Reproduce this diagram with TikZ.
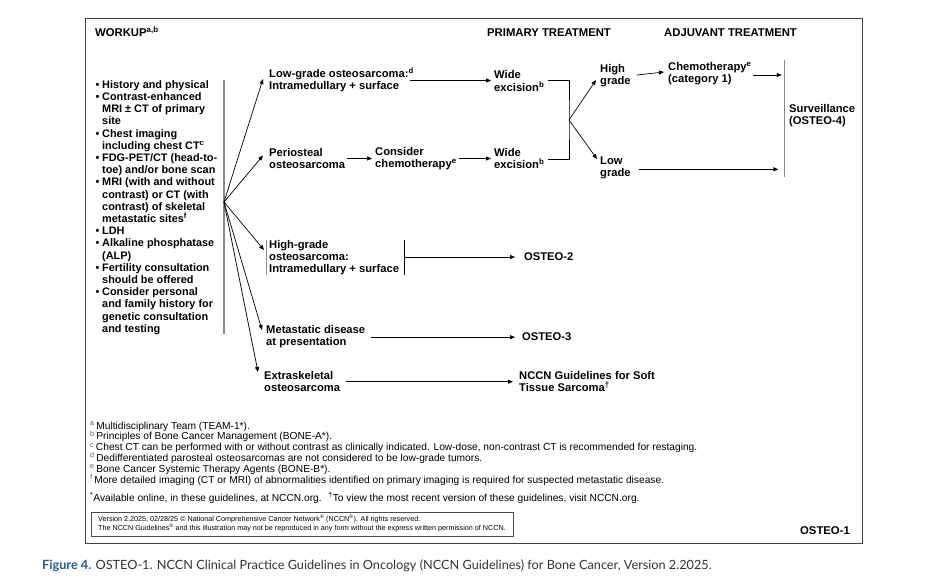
\documentclass[tikz,border=0pt]{standalone}
\usepackage{fontspec}
\setmainfont{Liberation Sans}
\newfontfamily\capfont{Lato}
\usetikzlibrary{arrows.meta,calc}
\definecolor{capblue}{HTML}{1F5C99}
\definecolor{captext}{HTML}{333333}
\definecolor{bargray}{HTML}{8A8A8A}
\newcommand{\bul}{\makebox[6.5pt][l]{\textbullet}}
\newcommand{\ind}{\hspace*{6.5pt}}
\newcommand{\sps}[1]{\smash{\textsuperscript{#1}}}
\newcommand{\fsup}[1]{{\color{black!65}\smash{\textsuperscript{#1}}}\,}
\begin{document}
\begin{tikzpicture}[x=1pt,y=-1pt,
  txt/.style={font=\bfseries\fontsize{11.2}{12.2}\selectfont, inner sep=0pt, align=left, anchor=west},
  wtxt/.style={font=\bfseries\fontsize{10.9}{12.2}\selectfont, inner sep=0pt, align=left, anchor=west},
  hdr/.style={font=\bfseries\fontsize{11.3}{12.2}\selectfont, inner sep=0pt, anchor=west},
  arr/.style={-{Triangle[length=5pt,width=4pt]}, line width=0.7pt},
  ln/.style={line width=0.7pt},
  gbar/.style={draw=bargray, line width=1.4pt},
  fn/.style={font=\fontsize{10.2}{10.8}\selectfont, inner sep=0pt, align=left, anchor=north west},
]
\useasboundingbox (0,0) rectangle (940,584);
\fill[white] (0,0) rectangle (940,584);
\draw[line width=0.8pt, black!75] (85.5,18) rectangle (862,543);

% headers
\node[hdr] (hwork) at (95,32) {WORKUP\textsuperscript{a,b}};
\node[hdr] (hprim) at (487,33) {PRIMARY TREATMENT};
\node[hdr] (hadj) at (664,33) {ADJUVANT TREATMENT};

% workup list
\node[wtxt] (work) at (95.5,207.5) {%
\bul History and physical\\
\bul Contrast-enhanced\\
\ind MRI ± CT of primary\\
\ind site\\
\bul Chest imaging\\
\ind including chest CT\sps{c}\\
\bul FDG-PET/CT (head-to-\\
\ind toe) and/or bone scan\\
\bul MRI (with and without\\
\ind contrast) or CT (with\\
\ind contrast) of skeletal\\
\ind metastatic sites\sps{f}\\
\bul LDH\\
\bul Alkaline phosphatase\\
\ind (ALP)\\
\bul Fertility consultation\\
\ind should be offered\\
\bul Consider personal\\
\ind and family history for\\
\ind genetic consultation\\
\ind and testing};
\coordinate (wbt) at (224,80);
\coordinate (wbb) at (224,334);
\draw[gbar] (wbt) -- (wbb);
\coordinate (fan) at (224,202);

% branch nodes
\node[txt] (low) at (269,81) {Low-grade osteosarcoma:\sps{d}\\Intramedullary + surface};
\node[txt] (wide1) at (494,81) {Wide\\excision\sps{b}};
\node[txt] (peri) at (269,158.5) {Periosteal\\osteosarcoma};
\node[txt] (cons) at (375,158.5) {Consider\\chemotherapy\sps{e}};
\node[txt] (wide2) at (494,158.5) {Wide\\excision\sps{b}};
\node[txt] (high) at (600,76) {High\\grade};
\node[txt] (lowg) at (600,168) {Low\\grade};
\node[txt] (chemo) at (668,73.5) {Chemotherapy\sps{e}\\(category 1)};
\node[txt] (surv) at (789,115.5) {Surveillance\\(OSTEO-4)};
\node[txt] (hg) at (269,257.5) {High-grade\\osteosarcoma:\\Intramedullary + surface};
\node[txt] (o2) at (524,256.5) {OSTEO-2};
\node[txt] (meta) at (266,336.5) {Metastatic disease\\at presentation};
\node[txt] (o3) at (522,336.5) {OSTEO-3};
\node[txt] (extra) at (264,381.5) {Extraskeletal\\osteosarcoma};
\node[txt] (soft) at (519,381.5) {NCCN Guidelines for Soft\\Tissue Sarcoma\sps{\dag}};

% fan arrows
\draw[arr] (fan) -- ([xshift=-6pt,yshift=2pt]low.west);
\draw[arr] (fan) -- ([xshift=-6pt,yshift=3pt]peri.west);
\draw[arr] (fan) -- ([xshift=-5pt,yshift=7.5pt]hg.west);
\draw[arr] (fan) -- ([xshift=-4pt,yshift=6.5pt]meta.west);
\draw[arr] (fan) -- ([xshift=-6pt,yshift=9.5pt]extra.west);

% row arrows
\draw[arr] ([xshift=-4pt,yshift=0.5pt]low.east) -- ([xshift=-3pt,yshift=0.5pt]wide1.west);
\draw[arr] ([xshift=2pt]peri.east) -- ([xshift=-3pt]cons.west);
\draw[arr] ([xshift=2pt]cons.east) -- ([xshift=-3pt]wide2.west);
\coordinate (brk) at (569,120);
\draw[ln] ([xshift=3pt,yshift=1pt]wide1.east) -| (brk) |- ([xshift=3pt,yshift=-1pt]wide2.east);
\draw[arr] (brk) -- ([xshift=-4pt,yshift=-4pt]high.west);
\draw[arr] (brk) -- ([xshift=-3pt,yshift=9pt]lowg.west);

\coordinate (sbt) at (784.3,60);
\coordinate (sbb) at (784.3,177);
\draw[gbar] (sbt) -- (sbb);
\draw[arr] ([xshift=6pt,yshift=1pt]high.east) -- ([xshift=-4pt,yshift=1.5pt]chemo.west);
\draw[arr] ([yshift=-1.5pt,xshift=-31.5pt]chemo.east -| sbt) -- ([yshift=-1.5pt,xshift=-2.5pt]chemo.east -| sbt);
\draw[arr] ([xshift=8pt,yshift=-1.3pt]lowg.east) -- ([yshift=-1.3pt,xshift=-6pt]lowg.east -| sbt);

% high-grade bars
\draw[gbar, line width=1pt] ([xshift=-2.3pt]hg.north west) -- ([xshift=-2.3pt]hg.south west);
\draw[ln] ([xshift=5pt]hg.north east) -- ([xshift=5pt]hg.south east);
\draw[arr] ([xshift=5pt,yshift=0.5pt]hg.east) -- ([xshift=-9pt,yshift=0.5pt]hg.east -| o2.west);
\draw[arr] ([xshift=6pt,yshift=-0.7pt]meta.east) -- ([xshift=-7pt,yshift=-0.7pt]meta.east -| o3.west);
\draw[arr] ([xshift=6pt,yshift=-0.2pt]extra.east) -- ([xshift=-6pt,yshift=-0.2pt]soft.west);

% footnotes
\node[fn] (fns) at (90,421.5) {%
\fsup{a}Multidisciplinary Team (TEAM-1*).\\
\fsup{b}Principles of Bone Cancer Management (BONE-A*).\\
\fsup{c}Chest CT can be performed with or without contrast as clinically indicated. Low-dose, non-contrast CT is recommended for restaging.\\
\fsup{d}Dedifferentiated parosteal osteosarcomas are not considered to be low-grade tumors.\\
\fsup{e}Bone Cancer Systemic Therapy Agents (BONE-B*).\\
\fsup{f}More detailed imaging (CT or MRI) of abnormalities identified on primary imaging is required for suspected metastatic disease.};
\node[fn, anchor=west] (avail) at (90,498) {\textsuperscript{*}Available online, in these guidelines, at NCCN.org. \ \textsuperscript{\dag}To view the most recent version of these guidelines, visit NCCN.org.};

% copyright box
\draw[line width=0.6pt, black!70] (91,512) rectangle (513,536);
\node[font=\fontsize{7.2}{9}\selectfont, inner sep=0pt, align=left, anchor=west] (copy) at (98,524) {Version 2.2025, 02/28/25 © National Comprehensive Cancer Network\sps{®} (NCCN\sps{®}). All rights reserved.\\The NCCN Guidelines\sps{®} and this illustration may not be reproduced in any form without the express written permission of NCCN.};
\node[hdr, anchor=east] (o1) at (850,531) {OSTEO-1};

% caption
\node[inner sep=0pt, anchor=west, font=\capfont\fontsize{12.7}{14}\selectfont, text=captext] (cap) at (42,566) {{\color{capblue}\bfseries Figure 4.} OSTEO-1. NCCN Clinical Practice Guidelines in Oncology (NCCN Guidelines) for Bone Cancer, Version 2.2025.};
\end{tikzpicture}
\end{document}
